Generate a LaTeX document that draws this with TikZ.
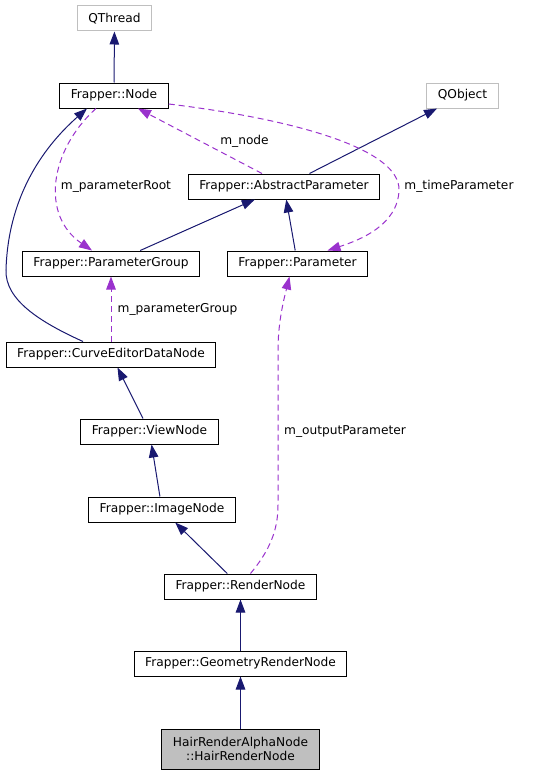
\documentclass[tikz,border=0pt]{standalone}
\usepackage{fontspec}
\setmainfont{DejaVu Sans}
\usepackage{tikz}
\usetikzlibrary{arrows.meta,shapes,positioning}
\usepackage{xcolor}
\definecolor{dxnavy}{RGB}{25,25,112}
\definecolor{dxpurple}{RGB}{154,50,205}
\definecolor{dxgrey}{RGB}{191,191,191}
\tikzstyle{cls} = [rectangle, draw=black, fill=white, line width=1pt, minimum height=25pt, inner xsep=11pt, inner ysep=2pt, text centered]
\tikzstyle{extcls} = [cls, draw=dxgrey]
\tikzstyle{maincls} = [cls, fill=dxgrey, minimum height=40pt, align=center]
\tikzstyle{inherit} = [line width=1pt, ->, >={Triangle[length=13pt,width=9.5pt]}, color=dxnavy]
\tikzstyle{usage} = [line width=1pt, ->, >={Triangle[length=13pt,width=9.5pt]}, dash pattern=on 6pt off 4pt, color=dxpurple]
\tikzstyle{lbl} = [inner sep=0pt]

\begin{document}
\begin{tikzpicture}[x=1pt, y=-1pt, node distance=77pt, font=\fontsize{12.2}{14}\selectfont]
\useasboundingbox (0,0) rectangle (536,776);

% Top classes
\node (qthread) [extcls] at (114.5,18.5) {QThread};
\node (fnode) [cls] at (114,95.5) {Frapper::Node};
\node (qobject) [extcls] at (462.5,95.5) {QObject};
\node (absparam) [cls] at (284,186.5) {Frapper::AbstractParameter};
\node (paramgroup) [cls] at (111,263.5) {Frapper::ParameterGroup};
\node (param) [cls] at (297.5,263.5) {Frapper::Parameter};

% Node chain
\node (curvedata) [cls] at (111,354.5) {Frapper::CurveEditorDataNode};
\node (view) [cls, below of=curvedata, xshift=38.5pt] {Frapper::ViewNode};
\node (image) [cls, below of=view, xshift=12.5pt, yshift=-1pt] {Frapper::ImageNode};
\node (render) [cls, below of=image, xshift=78.5pt] {Frapper::RenderNode};
\node (georender) [cls, below of=render] {Frapper::GeometryRenderNode};
\node (hair) [maincls, below of=georender, yshift=-8.5pt] {HairRenderAlphaNode\\::HairRenderNode};

% Labels
\node (lnode) [lbl] at (244.5,141) {m\_node};
\node (lroot) [lbl] at (116,186) {m\_parameterRoot};
\node (ltime) [lbl] at (459,186) {m\_timeParameter};
\node (lgroup) [lbl] at (177.5,309) {m\_parameterGroup};
\node (loutput) [lbl] at (345,431) {m\_outputParameter};

% Inheritance
\draw[inherit] (fnode) -- (qthread);
\draw[inherit] (absparam) -- (qobject);
\draw[inherit] (paramgroup) -- (absparam);
\draw[inherit] (param) -- (absparam);
\draw[inherit] ([xshift=-28pt]curvedata.north) .. controls (40,322) and (5,300) .. (6,270) .. controls (8,200) and (40,150) .. ([xshift=-27pt]fnode.south);
\draw[inherit] (view) -- (curvedata);
\draw[inherit] (image) -- (view);
\draw[inherit] (render) -- (image);
\draw[inherit] (georender) -- (render);
\draw[inherit] (hair) -- (georender);

% Usage
\draw[usage] ([xshift=-18pt]fnode.south) .. controls (50,150) and (40,215) .. ([xshift=-19pt]paramgroup.north);
\draw[usage] ([xshift=-22pt]absparam.north) -- ([xshift=24pt]fnode.south);
\draw[usage] ([yshift=-8.5pt]fnode.east) .. controls (300,120) and (400,150) .. (399,190) .. controls (398,225) and (360,240) .. ([xshift=30pt]param.north);
\draw[usage] (curvedata.north) -- (paramgroup.south);
\draw[usage] ([xshift=10pt]render.north) .. controls (270,550) and (278,530) .. (278,505) -- (278,350) .. controls (278,320) and (285,295) .. ([xshift=-8pt]param.south);
\end{tikzpicture}
\end{document}
